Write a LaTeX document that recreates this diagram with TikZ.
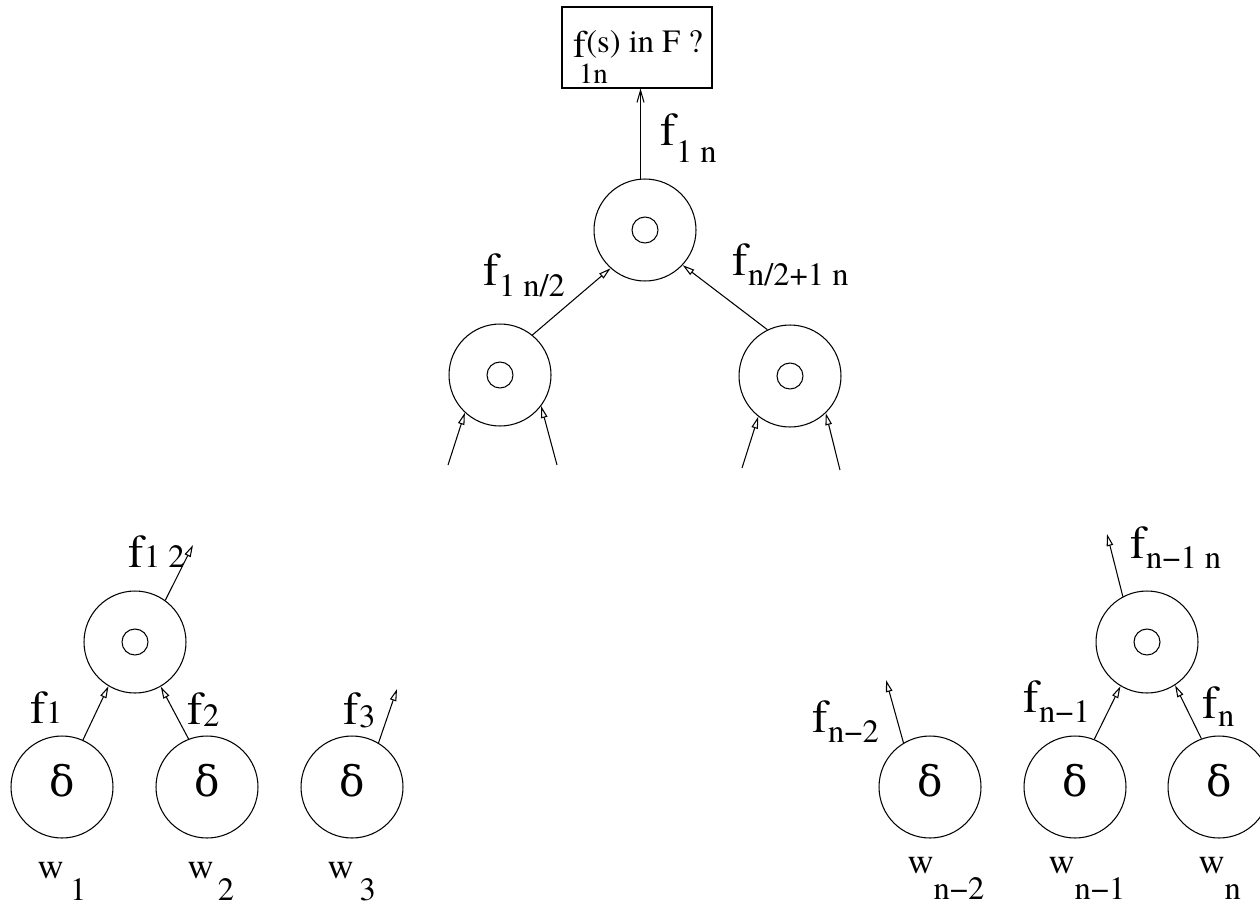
\documentclass[tikz,border=0pt]{standalone}
\usepackage{fontspec}
\setmainfont{texgyretermes-regular.otf}
\newfontfamily\grk{DejaVu Serif}
\usetikzlibrary{arrows.meta}
\newcommand\flab[2]{{\fontsize{26.5}{28}\selectfont f}\raisebox{-#2}{\fontsize{18.5}{20}\selectfont #1}}
\newcommand\wlab[3]{{\fontsize{20.5}{22}\selectfont w}\hspace{#2}\raisebox{-#3}{\fontsize{18.5}{20}\selectfont #1}}
\tikzset{
  >={Triangle[open,length=2.4mm,width=1.3mm]},
  leafnode/.style={circle,draw,minimum size=2.04cm,inner sep=0pt,text depth=8pt,
    font=\grk\fontsize{24}{26}\selectfont},
  mergenode/.style={circle,draw,minimum size=2.04cm,inner sep=0pt,
    path picture={\draw (path picture bounding box.center) circle (0.26cm);}},
  flow/.style={->},
  tag/.style={anchor=base west,inner sep=0pt},
}
\begin{document}
\begin{tikzpicture}[x=0.02cm,y=-0.02cm,line width=0.6pt]
  \useasboundingbox (0,0) rectangle (1260,906);
  % query box
  \node[draw,minimum width=3cm,minimum height=1.62cm,inner sep=0pt] (box) at (637,47.5) {};
  \node[tag] (query) at (573,57) {\rlap{\hspace{3pt}\raisebox{-15pt}{\fontsize{16.5}{18}\selectfont 1n}}{\fontsize{22}{23}\selectfont f}\raisebox{2.8pt}{\fontsize{18.5}{20}\selectfont (s) in F ?}};
  % upper part of the tree
  \node[mergenode] (top) at (645,230) {};
  \node[mergenode] (ml) at (500,375) {};
  \node[mergenode] (mr) at (790,376) {};
  \draw[-{Straight Barb[length=2.4mm,width=1.4mm]}] (top.95) -- (top.95 |- box.south);
  \draw[flow] (ml.51) -- (top.228);
  \draw[flow] (mr.116) -- (top.317);
  \coordinate (il1) at (448,465);
  \coordinate (il2) at (557,465);
  \coordinate (ir1) at (742,468);
  \coordinate (ir2) at (840,470);
  \foreach \c/\n/\a in {il1/ml/227,il2/ml/323,ir1/mr/232,ir2/mr/314}
    \draw[flow] (\c) -- (\n.\a);
  \node[tag] (l1n) at (660,145) {\flab{1 n}{10.2pt}};
  \node[tag] (l1h) at (483,285) {\flab{1 n/2}{6.8pt}};
  \node[tag] (lh1n) at (732,275) {\flab{n/2+1 n}{5.7pt}};
  % left leaves
  \foreach \n/\x in {w1/62,w2/207,w3/352}
    \node[leafnode] (\n) at (\x,787) {δ};
  \node[mergenode] (p12) at (135,642) {};
  \coordinate (o12) at (193,545);
  \coordinate (o3) at (397,689);
  \draw[flow] (w1.66) -- (p12.239);
  \draw[flow] (w2.111) -- (p12.300);
  \draw[flow] (p12.54) -- (o12);
  \draw[flow] (w3.59) -- (o3);
  \node[tag] (l12) at (128,567) {\flab{1 2}{0.5pt}};
  \node[tag] (l1) at (30,723) {\flab{1}{0pt}};
  \node[tag] (l2) at (187,724) {\flab{2}{1.7pt}};
  \node[tag] (l3) at (343,724) {\flab{3}{2pt}};
  \node[tag] (t1) at (37,878) {\wlab{1}{3.7pt}{12.8pt}};
  \node[tag] (t2) at (187,878) {\wlab{2}{2.5pt}{12.8pt}};
  \node[tag] (t3) at (327,878) {\wlab{3}{3.5pt}{12.8pt}};
  % right leaves
  \foreach \n/\x in {wn2/930,wn1/1075,wn/1219}
    \node[leafnode] (\n) at (\x,787) {δ};
  \node[mergenode] (pn) at (1147,642) {};
  \coordinate (on2) at (886,680);
  \coordinate (opn) at (1107,534);
  \draw[flow] (wn2.121) -- (on2);
  \draw[flow] (wn1.68) -- (pn.239);
  \draw[flow] (wn.110) -- (pn.303);
  \draw[flow] (pn.118) -- (opn);
  \node[tag] (ln2) at (812,732) {\flab{n−2}{6.2pt}};
  \node[tag] (ln1) at (1023,712) {\flab{n−1}{6.2pt}};
  \node[tag] (ln) at (1202,718) {\flab{n}{5pt}};
  \node[tag] (ln1n) at (1130,558) {\flab{n−1 n}{6.2pt}};
  \node[tag] (tn2) at (907,873) {\wlab{n−2}{0pt}{15pt}};
  \node[tag] (tn1) at (1048,873) {\wlab{n−1}{0pt}{15pt}};
  \node[tag] (tn) at (1198,873) {\wlab{n}{0pt}{15pt}};
\end{tikzpicture}
\end{document}
